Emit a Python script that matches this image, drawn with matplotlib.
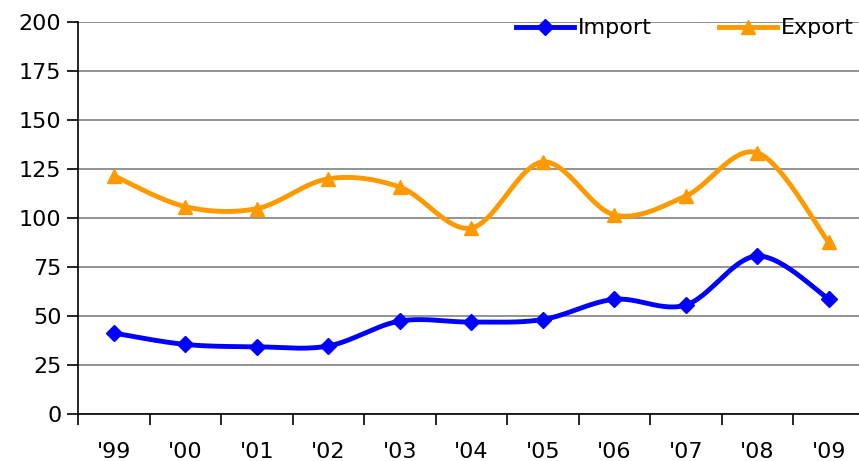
import numpy as np
import matplotlib.pyplot as plt

# Data
years = ["'99", "'00", "'01", "'02", "'03", "'04", "'05", "'06", "'07", "'08", "'09"]
imports = [41.3, 35.5, 34.3, 34.7, 47.4, 46.9, 48.2, 58.5, 55.6, 80.6, 58.7]
exports = [121.6, 105.8, 104.8, 120.0, 115.8, 94.9, 128.6, 101.6, 111.2, 133.3, 87.6]

plt.rcParams["font.family"] = ["DejaVu Sans"]


# Excel-style smoothed line (Catmull-Rom through the points)
def smooth(x, y, steps=30):
    p = np.column_stack([x, y]).astype(float)
    p = np.vstack([p[0], p, p[-1]])
    out = []
    t = np.linspace(0, 1, steps)[:, None]
    for i in range(1, len(p) - 2):
        p0, p1, p2, p3 = p[i - 1], p[i], p[i + 1], p[i + 2]
        c1 = p1 + (p2 - p0) / 6
        c2 = p2 - (p3 - p1) / 6
        seg = ((1 - t) ** 3) * p1 + 3 * ((1 - t) ** 2) * t * c1 + 3 * (1 - t) * t ** 2 * c2 + t ** 3 * p2
        out.append(seg)
    seg = np.vstack(out)
    return seg[:, 0], seg[:, 1]


fig = plt.figure(figsize=(8.59, 4.61), dpi=100)
ax = fig.add_axes([78 / 859, 1 - 414 / 461, 786.5 / 859, 392 / 461])

x = np.arange(len(years))
blue = "#0000FF"
orange = "#FF9900"

sx, sy = smooth(x, imports)
ax.plot(sx, sy, color=blue, lw=3.5, solid_capstyle="round")
ax.plot(x, imports, ls="none", marker="D", color=blue, ms=8)
sx, sy = smooth(x, exports)
ax.plot(sx, sy, color=orange, lw=3.5, solid_capstyle="round")
ax.plot(x, exports, ls="none", marker="^", color=orange, ms=10)

# legend handles
ax.plot([], [], color=blue, lw=3.5, marker="D", ms=8, label="Import")
ax.plot([], [], color=orange, lw=3.5, marker="^", ms=10, label="Export")
ax.legend(loc="upper right", bbox_to_anchor=(1.012, 1.06), ncol=2, frameon=False,
          fontsize=16, handlelength=2.6, handletextpad=0.2, columnspacing=3.0)

ax.set_xlim(-0.5, len(years) - 0.5)
ax.set_ylim(0, 200)
ax.set_yticks(np.arange(0, 201, 25))
ax.yaxis.grid(True, color="#808080", lw=1.2)
ax.set_axisbelow(True)
ax.set_xticks(x)
ax.set_xticklabels(years)
ax.set_xticks(np.arange(-0.5, len(years)), minor=True)
ax.tick_params(axis="x", which="major", length=0, pad=20, labelsize=16)
ax.tick_params(axis="x", which="minor", length=8, width=1.2, direction="out")
ax.tick_params(axis="y", length=8, width=1.2, labelsize=16, pad=4)
for s in ["top", "right"]:
    ax.spines[s].set_visible(False)
ax.spines["left"].set_linewidth(1.2)
ax.spines["bottom"].set_linewidth(1.2)

fig.savefig("out.png", dpi=100)
